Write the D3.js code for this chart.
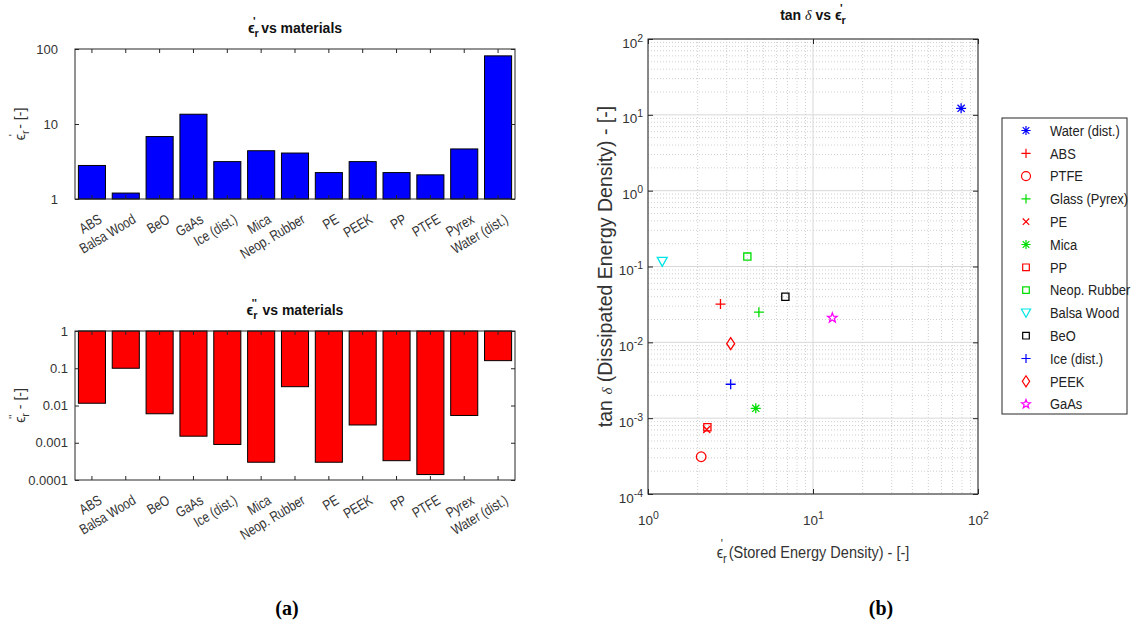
<!DOCTYPE html>
<html>
<head>
<meta charset="utf-8">
<script src="https://cdn.jsdelivr.net/npm/d3@7"></script>
<style>
  html, body { margin: 0; padding: 0; background: #fff; }
  svg { display: block; }
</style>
</head>
<body>
<svg id="chart" width="1138" height="628"></svg>
<script>
// ---------------- DATA ----------------
const categories = ["ABS", "Balsa Wood", "BeO", "GaAs", "Ice (dist.)", "Mica", "Neop. Rubber",
                    "PE", "PEEK", "PP", "PTFE", "Pyrex", "Water (dist.)"];
const epsRealValues = [2.8, 1.2, 6.8, 13.5, 3.15, 4.4, 4.1, 2.25, 3.15, 2.25, 2.1, 4.65, 81];
const epsImagValues = [0.0115, 0.1, 0.006, 0.0015, 0.0009, 0.0003, 0.032, 0.0003, 0.003, 0.00033, 0.00014, 0.0054, 0.16];
const topTicks = [1, 10, 100];
const bottomTicks = [0.0001, 0.001, 0.01, 0.1, 1];

const scatterNames = ["Water (dist.)", "ABS", "PTFE", "Glass (Pyrex)", "PE", "Mica", "PP",
                      "Neop. Rubber", "Balsa Wood", "BeO", "Ice (dist.)", "PEEK", "GaAs"];
const scatterEps = [79, 2.75, 2.1, 4.7, 2.27, 4.5, 2.29, 4.0, 1.22, 6.8, 3.17, 3.17, 13.1];
const scatterTan = [12.2, 0.032, 0.00031, 0.025, 0.00071, 0.00135, 0.00076, 0.135, 0.116, 0.04, 0.0028, 0.0096, 0.021];
const scatterXTicks = [1, 10, 100];
const scatterYTicks = [1e-4, 1e-3, 1e-2, 1e-1, 1, 10, 100];

// styles (per series)
const scatterMarkers = ["asterisk", "plus", "circle", "plus", "cross", "asterisk", "square",
                        "square", "triangleDown", "square", "plus", "diamond", "pentagram"];
const scatterColors = ["#0000ff", "#ff0000", "#ff0000", "#00dd00", "#ff0000", "#00dd00", "#ff0000",
                       "#00dd00", "#00e5e5", "#000000", "#0000ff", "#ff0000", "#ff00ff"];

// ---------------- HELPERS ----------------
const SANS = "'Liberation Sans', Arial, Helvetica, sans-serif";
const SERIF = "'Liberation Serif', 'DejaVu Serif', serif";
const svg = d3.select("#chart").style("font-family", SANS);
svg.append("rect").attr("width", 1138).attr("height", 628).attr("fill", "#fff");
const axisColor = "#262626";
const labelColor = "#333";

function epsR(t, fs, primes, rest) {
  t.append("tspan").text("ϵ");
  t.append("tspan").attr("font-size", fs * 0.78).attr("dy", fs * 0.32).text("r");
  t.append("tspan").attr("font-size", fs * 0.78).attr("dx", -fs * 0.42).attr("dy", -fs * 0.9).text(primes);
  t.append("tspan").attr("dy", fs * 0.58).attr("dx", fs * 0.12).text(rest);
}

function markerPath(type, s) {
  const p = d3.path();
  if (type === "plus" || type === "asterisk") {
    p.moveTo(-s, 0); p.lineTo(s, 0); p.moveTo(0, -s); p.lineTo(0, s);
  }
  if (type === "cross" || type === "asterisk") {
    const c = type === "cross" ? s * 0.7 : s * 0.72;
    p.moveTo(-c, -c); p.lineTo(c, c); p.moveTo(-c, c); p.lineTo(c, -c);
  }
  if (type === "circle") { p.moveTo(s, 0); p.arc(0, 0, s, 0, 2 * Math.PI); }
  if (type === "square") { const h = s * 0.72; p.rect(-h, -h, 2 * h, 2 * h); }
  if (type === "diamond") {
    p.moveTo(0, -s * 1.2); p.lineTo(s * 0.8, 0); p.lineTo(0, s * 1.2); p.lineTo(-s * 0.8, 0); p.closePath();
  }
  if (type === "triangleDown") {
    p.moveTo(-s, -s * 0.85); p.lineTo(s, -s * 0.85); p.lineTo(0, s * 0.95); p.closePath();
  }
  if (type === "pentagram") {
    for (let i = 0; i < 10; i++) {
      const r = i % 2 === 0 ? s : s * 0.42;
      const a = -Math.PI / 2 + i * Math.PI / 5;
      const px = r * Math.cos(a), py = r * Math.sin(a);
      if (i === 0) p.moveTo(px, py); else p.lineTo(px, py);
    }
    p.closePath();
  }
  return p.toString();
}

function styleAxis(a) {
  a.attr("font-family", null).attr("font-size", null);
  a.select(".domain").remove();
  a.selectAll("line").attr("stroke", axisColor);
}

// ---------------- BAR CHARTS ----------------
function barChart(cfg) {
  const g = svg.append("g");
  const x = d3.scaleBand().domain(categories).range([cfg.left, cfg.right]).paddingInner(0.2).paddingOuter(0.1);
  const y = d3.scaleLog().domain(cfg.domain).range([cfg.bottom, cfg.top]);

  g.selectAll("rect.bar").data(cfg.values).enter().append("rect")
    .attr("class", "bar")
    .attr("x", (d, i) => x(categories[i]))
    .attr("width", x.bandwidth())
    .attr("y", d => cfg.down ? cfg.top : y(d))
    .attr("height", d => cfg.down ? y(d) - cfg.top : cfg.bottom - y(d))
    .attr("fill", cfg.color)
    .attr("stroke", "#000").attr("stroke-width", 1);

  const ay = g.append("g").attr("transform", `translate(${cfg.left},0)`)
    .call(d3.axisLeft(y).tickValues(cfg.ticks).tickFormat(d3.format("~g"))
      .tickSizeInner(-4).tickSizeOuter(0).tickPadding(cfg.pad));
  styleAxis(ay);
  ay.selectAll("text").attr("font-size", 13).attr("fill", labelColor);
  const ar = g.append("g").attr("transform", `translate(${cfg.right},0)`)
    .call(d3.axisRight(y).tickValues(cfg.ticks).tickFormat("").tickSizeInner(-4).tickSizeOuter(0));
  styleAxis(ar);

  const ax = g.append("g").attr("transform", `translate(0,${cfg.bottom})`)
    .call(d3.axisBottom(x).tickSizeInner(-4).tickSizeOuter(0));
  styleAxis(ax);
  ax.selectAll("text").remove();
  // rotated category labels
  g.append("g").selectAll("g.lab").data(categories).enter().append("g")
    .attr("transform", d => `translate(${x(d) + x.bandwidth() / 2 + 11},${cfg.bottom + 23}) rotate(-31) scale(0.8,1)`)
    .append("text")
    .attr("text-anchor", "end")
    .attr("font-size", 14.5).attr("fill", labelColor)
    .text(d => d);

  const at = g.append("g").attr("transform", `translate(0,${cfg.top})`)
    .call(d3.axisTop(x).tickFormat("").tickSizeInner(-4).tickSizeOuter(0));
  styleAxis(at);

  g.append("rect").attr("x", cfg.left).attr("y", cfg.top)
    .attr("width", cfg.right - cfg.left).attr("height", cfg.bottom - cfg.top)
    .attr("fill", "none").attr("stroke", axisColor).attr("stroke-width", 1);

  const t = g.append("text").attr("x", (cfg.left + cfg.right) / 2).attr("y", cfg.titleY)
    .attr("text-anchor", "middle").attr("font-size", 14).attr("font-weight", "bold").attr("fill", "#111");
  epsR(t, 14, cfg.primes, " vs materials");

  const yl = g.append("text")
    .attr("transform", `translate(${cfg.ylabelX},${(cfg.top + cfg.bottom) / 2}) rotate(-90)`)
    .attr("text-anchor", "middle").attr("font-size", 14).attr("fill", labelColor);
  epsR(yl, 14, cfg.primes, " - [-]");
}

barChart({ left: 75, right: 515, top: 49, bottom: 199, domain: [1, 100], values: epsRealValues,
  ticks: topTicks, color: "#0000ff", down: false, pad: 17, titleY: 33, primes: "'", ylabelX: 25 });
barChart({ left: 75, right: 515, top: 331, bottom: 480, domain: [1e-4, 1], values: epsImagValues,
  ticks: bottomTicks, color: "#ff0000", down: true, pad: 7, titleY: 315, primes: "''", ylabelX: 25 });

// ---------------- SCATTER ----------------
const sL = 648, sR = 978, sT = 39, sB = 494;
const sx = d3.scaleLog().domain([1, 100]).range([sL, sR]);
const sy = d3.scaleLog().domain([1e-4, 100]).range([sB, sT]);
const sg = svg.append("g");

const isMajor = v => Math.abs(Math.log10(v) - Math.round(Math.log10(v))) < 1e-9;
sg.append("g").selectAll("line").data(sx.ticks().filter(v => !isMajor(v))).enter().append("line")
  .attr("x1", d => sx(d)).attr("x2", d => sx(d)).attr("y1", sT).attr("y2", sB)
  .attr("stroke", "#d0d0d0").attr("stroke-width", 1).attr("stroke-dasharray", "1,2");
sg.append("g").selectAll("line").data(sy.ticks().filter(v => !isMajor(v))).enter().append("line")
  .attr("y1", d => sy(d)).attr("y2", d => sy(d)).attr("x1", sL).attr("x2", sR)
  .attr("stroke", "#d0d0d0").attr("stroke-width", 1).attr("stroke-dasharray", "1,2");
sg.append("g").selectAll("line").data(scatterXTicks).enter().append("line")
  .attr("x1", d => sx(d)).attr("x2", d => sx(d)).attr("y1", sT).attr("y2", sB)
  .attr("stroke", "#d8d8d8").attr("stroke-width", 1);
sg.append("g").selectAll("line").data(scatterYTicks).enter().append("line")
  .attr("y1", d => sy(d)).attr("y2", d => sy(d)).attr("x1", sL).attr("x2", sR)
  .attr("stroke", "#d8d8d8").attr("stroke-width", 1);

function powLabels(sel) {
  sel.selectAll("text").each(function (d) {
    const t = d3.select(this);
    t.text("");
    t.append("tspan").text("10");
    t.append("tspan").attr("font-size", 10.5).attr("dy", -6).text(String(Math.round(Math.log10(d))));
  });
}

const sax = sg.append("g").attr("transform", `translate(0,${sB})`)
  .call(d3.axisBottom(sx).tickValues(scatterXTicks).tickSizeInner(-5).tickSizeOuter(0).tickPadding(21));
styleAxis(sax);
sax.selectAll("text").attr("font-size", 13.5).attr("fill", labelColor);
powLabels(sax);

const say = sg.append("g").attr("transform", `translate(${sL},0)`)
  .call(d3.axisLeft(sy).tickValues(scatterYTicks).tickSizeInner(-5).tickSizeOuter(0).tickPadding(5));
styleAxis(say);
say.selectAll("text").attr("font-size", 13.5).attr("fill", labelColor).attr("dy", "0.6em");
powLabels(say);

const sat = sg.append("g").attr("transform", `translate(0,${sT})`)
  .call(d3.axisTop(sx).tickValues(scatterXTicks).tickFormat("").tickSizeInner(-5).tickSizeOuter(0));
styleAxis(sat);
const sar = sg.append("g").attr("transform", `translate(${sR},0)`)
  .call(d3.axisRight(sy).tickValues(scatterYTicks).tickFormat("").tickSizeInner(-5).tickSizeOuter(0));
styleAxis(sar);

sg.append("rect").attr("x", sL).attr("y", sT).attr("width", sR - sL).attr("height", sB - sT)
  .attr("fill", "none").attr("stroke", axisColor).attr("stroke-width", 1);

sg.append("g").selectAll("path").data(scatterNames).enter().append("path")
  .attr("transform", (d, i) => `translate(${sx(scatterEps[i])},${sy(scatterTan[i])})`)
  .attr("d", (d, i) => markerPath(scatterMarkers[i], scatterMarkers[i] === "circle" ? 4.8 : 5))
  .attr("fill", "none")
  .attr("stroke", (d, i) => scatterColors[i]).attr("stroke-width", 1.3);

// title
const st = sg.append("text").attr("x", (sL + sR) / 2).attr("y", 20).attr("text-anchor", "middle")
  .attr("font-size", 14).attr("font-weight", "bold").attr("fill", "#111");
st.append("tspan").text("tan ");
st.append("tspan").attr("font-style", "italic").attr("font-weight", "normal").style("font-family", SERIF).text("δ");
st.append("tspan").text(" vs ");
epsR(st, 14, "'", "");

// axis labels
const sxlG = sg.append("g").attr("transform", `translate(${(sL + sR) / 2},558) scale(0.88,1)`);
const sxl = sxlG.append("text").attr("x", 0).attr("y", 0).attr("text-anchor", "middle")
  .attr("font-size", 16.5).attr("fill", labelColor);
epsR(sxl, 16.5, "'", " (Stored Energy Density) - [-]");

const syl = sg.append("text").attr("transform", `translate(612,${(sT + sB) / 2}) rotate(-90)`)
  .attr("text-anchor", "middle").attr("font-size", 19.5).attr("fill", labelColor);
syl.append("tspan").text("tan ");
syl.append("tspan").attr("font-style", "italic").style("font-family", SERIF).attr("font-size", 15).text("δ");
syl.append("tspan").text(" (Dissipated Energy Density) - [-]");

// legend
const lg = svg.append("g");
const lx = 1002, ly = 118, lw = 125, rowH = 22.8;
lg.append("rect").attr("x", lx).attr("y", ly).attr("width", lw).attr("height", 296)
  .attr("fill", "#fff").attr("stroke", axisColor).attr("stroke-width", 1);
const rows = lg.selectAll("g.row").data(scatterNames).enter().append("g")
  .attr("transform", (d, i) => `translate(0,${ly + 12.5 + i * rowH})`);
rows.append("path")
  .attr("transform", "translate(1026,0)")
  .attr("d", (d, i) => markerPath(scatterMarkers[i], scatterMarkers[i] === "circle" ? 4.5 : 4.6))
  .attr("fill", "none").attr("stroke", (d, i) => scatterColors[i]).attr("stroke-width", 1.2);
rows.append("g").attr("transform", "translate(1050,0) scale(0.89,1)")
  .append("text").attr("x", 0).attr("y", 0).attr("dy", "0.36em")
  .attr("font-size", 14.5).attr("fill", "#222").text(d => d);

// captions
svg.append("text").attr("x", 287).attr("y", 615).attr("text-anchor", "middle")
  .style("font-family", SERIF).attr("font-weight", "bold").attr("font-size", 20).text("(a)");
svg.append("text").attr("x", 881).attr("y", 615).attr("text-anchor", "middle")
  .style("font-family", SERIF).attr("font-weight", "bold").attr("font-size", 20).text("(b)");
</script>
</body>
</html>
